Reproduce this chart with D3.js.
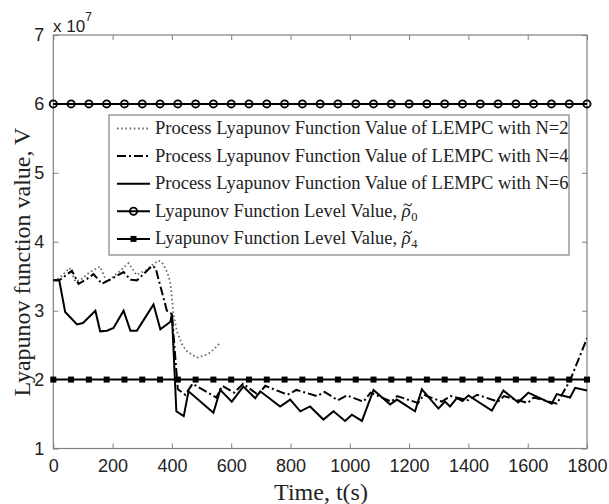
<!DOCTYPE html>
<html><head><meta charset="utf-8">
<script src="https://cdn.jsdelivr.net/npm/d3@7"></script>
<style>body{margin:0;background:#fff}svg{display:block}</style>
</head><body>
<svg id="c" width="609" height="504"></svg>
<script>
// ---- data (V in units of 1e7) ----
const xTicks = [0,200,400,600,800,1000,1200,1400,1600,1800];
const yTicks = [1,2,3,4,5,6,7];
const n2T = [0,20,55,75,100,120,158,180,210,254,280,310,355,370,385,394,400,405,417,435,451,484,510,529,560];
const n2V = [3.44,3.47,3.62,3.42,3.47,3.55,3.64,3.42,3.52,3.69,3.52,3.58,3.73,3.68,3.55,3.42,3.2,2.95,2.70,2.5,2.41,2.32,2.35,2.39,2.52];
const n4T = [0,20,63,85,110,136,164,200,237,260,282,333,345,383,400,420,445,470,550,570,610,640,690,715,790,820,890,915,960,990,1046,1070,1140,1160,1230,1250,1310,1340,1400,1430,1500,1520,1600,1620,1698,1743,1800];
const n4V = [3.44,3.44,3.58,3.39,3.45,3.53,3.39,3.47,3.56,3.45,3.44,3.65,3.62,3.0,2.95,1.86,1.78,1.94,1.74,1.91,1.81,1.94,1.78,1.91,1.78,1.85,1.76,1.82,1.70,1.77,1.68,1.81,1.68,1.76,1.66,1.78,1.68,1.76,1.70,1.78,1.68,1.76,1.66,1.74,1.65,1.99,2.6];
const n6T = [0,20,40,80,100,142,158,181,203,237,260,282,338,361,395,400,415,440,456,540,563,602,641,681,698,765,799,833,866,911,945,984,1007,1041,1080,1136,1159,1220,1243,1299,1321,1338,1361,1380,1400,1479,1518,1568,1602,1681,1698,1743,1760,1800];
const n6V = [3.44,3.44,2.98,2.80,2.82,3.0,2.70,2.71,2.75,3.0,2.71,2.71,3.09,2.73,2.84,2.95,1.54,1.47,1.83,1.52,1.85,1.68,1.90,1.73,1.83,1.61,1.71,1.54,1.61,1.42,1.54,1.40,1.49,1.40,1.85,1.64,1.71,1.54,1.86,1.58,1.68,1.61,1.73,1.69,1.77,1.55,1.84,1.67,1.81,1.65,1.79,1.74,1.88,1.84];
const rho0 = 6, rho4 = 2;
const markerT = d3.range(0, 1801, 60);
const legendLabels = [
  "Process Lyapunov Function Value of LEMPC with N=2",
  "Process Lyapunov Function Value of LEMPC with N=4",
  "Process Lyapunov Function Value of LEMPC with N=6",
  "Lyapunov Function Level Value, ",
  "Lyapunov Function Level Value, "
];
const rhoSubs = ["0","4"];

// ---- layout ----
const L = 53.3, R = 587, T = 35, B = 448.5;
const svg = d3.select("#c");
const x = d3.scaleLinear().domain([0,1800]).range([L,R]);
const y = d3.scaleLinear().domain([1,7]).range([B,T]);
const axisCol = "#808080";
const serif = "Liberation Serif, Times New Roman, serif";

// frame & ticks
const g = svg.append("g");
g.append("rect").attr("x",L).attr("y",T).attr("width",R-L).attr("height",B-T)
  .attr("fill","none").attr("stroke",axisCol).attr("stroke-width",1.2);

const xa = g.append("g").attr("transform",`translate(0,${B})`)
  .call(d3.axisBottom(x).tickValues(xTicks).tickSize(-5).tickPadding(11).tickFormat(d3.format("d")));
const xt = g.append("g").attr("transform",`translate(0,${T})`)
  .call(d3.axisTop(x).tickValues(xTicks).tickSize(-5).tickFormat(""));
const ya = g.append("g").attr("transform",`translate(${L},0)`)
  .call(d3.axisLeft(y).tickValues(yTicks).tickSize(-5).tickPadding(9).tickFormat(d3.format("d")));
const yr = g.append("g").attr("transform",`translate(${R},0)`)
  .call(d3.axisRight(y).tickValues(yTicks).tickSize(-5).tickFormat(""));
[xa,xt,ya,yr].forEach(a=>{
  a.select(".domain").remove();
  a.selectAll(".tick line").attr("stroke",axisCol);
  a.selectAll(".tick text").attr("fill","#222").attr("font-family","Liberation Sans, Arial, sans-serif").attr("font-size",18);
});

// exponent label
const ex = svg.append("text").attr("x",53).attr("y",32)
  .attr("font-family","Liberation Sans, Arial, sans-serif").attr("font-size",17).attr("fill","#222");
ex.append("tspan").text("x 10");
ex.append("tspan").attr("font-size",12).attr("dy",-11).text("7");

// axis labels
svg.append("text").attr("x",321).attr("y",500).attr("text-anchor","middle")
  .attr("font-family",serif).attr("font-size",24).attr("fill","#222")
  .text("Time, t(s)");
svg.append("text").attr("transform","translate(30,262) rotate(-90)").attr("text-anchor","middle")
  .attr("font-family",serif).attr("font-size",24).attr("fill","#222")
  .text("Lyapunov function value, V");

// clip
svg.append("clipPath").attr("id","clip").append("rect").attr("x",L).attr("y",T).attr("width",R-L).attr("height",B-T);
const pg = svg.append("g").attr("clip-path","url(#clip)");
const line = d3.line().x(d=>x(d[0])).y(d=>y(d[1]));

const styles = [
  {stroke:"#6a6a6a", w:1.8, dash:"1.6,2.6"},
  {stroke:"#000", w:2, dash:"9,3,2,3"},
  {stroke:"#000", w:2, dash:null}
];
const series = [d3.zip(n2T,n2V), d3.zip(n4T,n4V), d3.zip(n6T,n6V)];
series.forEach((s,i)=>{
  pg.append("path").datum(s).attr("d",line).attr("fill","none")
    .attr("stroke",styles[i].stroke).attr("stroke-width",styles[i].w)
    .attr("stroke-dasharray",styles[i].dash).attr("stroke-linejoin","miter");
});

// level lines
const lvl = svg.append("g");
[[rho0,"circle"],[rho4,"square"]].forEach(([v,m])=>{
  lvl.append("path").datum(markerT.map(t=>[t,v])).attr("d",line).attr("fill","none").attr("stroke","#000").attr("stroke-width",2);
  markerT.forEach(t=>{
    if(m==="circle") lvl.append("circle").attr("cx",x(t)).attr("cy",y(v)).attr("r",3.6).attr("fill","none").attr("stroke","#000").attr("stroke-width",1.8);
    else lvl.append("rect").attr("x",x(t)-3).attr("y",y(v)-3).attr("width",6).attr("height",6).attr("fill","#000");
  });
});

// legend
const lg = svg.append("g");
lg.append("rect").attr("x",109).attr("y",115).attr("width",460).attr("height",140)
  .attr("fill","#fff").attr("stroke",axisCol).attr("stroke-width",1.2);
const rowBase = [134,161.6,189.2,216.8,244.4];
const fs = 18.5;
legendLabels.forEach((lab,i)=>{
  const yy = rowBase[i]-5.5;
  const st = i<3 ? styles[i] : {stroke:"#000",w:2,dash:null};
  lg.append("line").attr("x1",117).attr("x2",150).attr("y1",yy).attr("y2",yy)
    .attr("stroke",st.stroke).attr("stroke-width",st.w).attr("stroke-dasharray",st.dash);
  if(i===3) lg.append("circle").attr("cx",133.5).attr("cy",yy).attr("r",3.6).attr("fill","none").attr("stroke","#000").attr("stroke-width",1.8);
  if(i===4) lg.append("rect").attr("x",130.5).attr("y",yy-3).attr("width",6).attr("height",6).attr("fill","#000");
  const t = lg.append("text").attr("x",155).attr("y",rowBase[i])
    .attr("font-family",serif).attr("font-size",fs).attr("fill","#222");
  t.append("tspan").text(lab);
  if(i>=3){
    t.append("tspan").attr("font-style","italic").text("\u03C1");
    t.append("tspan").attr("font-size",12.5).attr("dy",4).attr("dx",0.5).text(rhoSubs[i-3]);
    // tilde accent drawn as a small path over the rho
    const n = t.node();
    const idx = lab.length;
    const s = n.getStartPositionOfChar(idx), e = n.getEndPositionOfChar(idx);
    const cx = (s.x + e.x)/2 + 1.5, ty = rowBase[i] - 12.5;
    lg.append("path")
      .attr("d", `M${cx-4},${ty+1.2} C${cx-2.5},${ty-1.8} ${cx-0.5},${ty+0.5} ${cx},${ty+0.8} C${cx+1},${ty+1.3} ${cx+2.5},${ty+2.5} ${cx+4},${ty-0.8}`)
      .attr("fill","none").attr("stroke","#222").attr("stroke-width",1.1);
  }
});
</script>
</body></html>
